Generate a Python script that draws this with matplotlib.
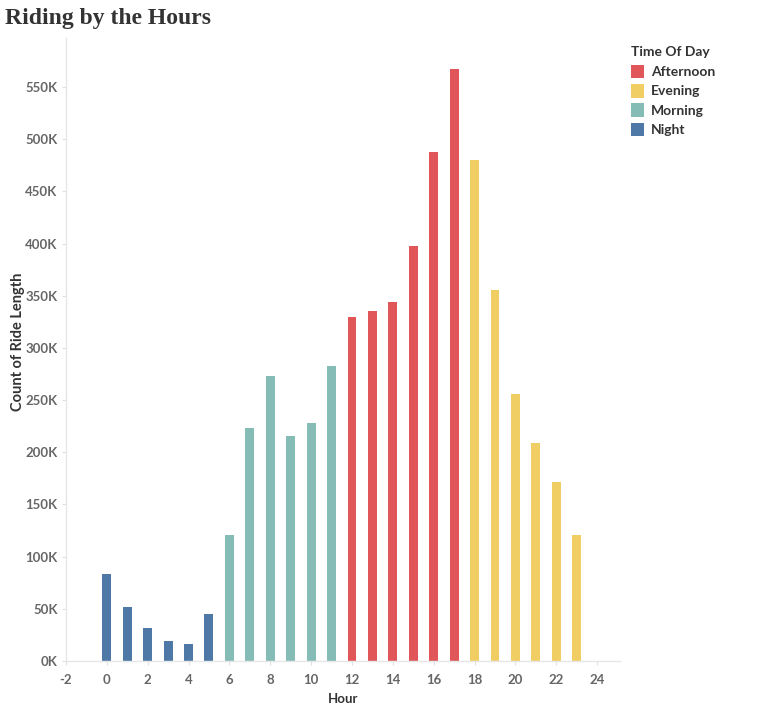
import matplotlib
matplotlib.use("Agg")
import matplotlib.pyplot as plt
from matplotlib.patches import Patch
from matplotlib.ticker import FuncFormatter

# ride counts per hour of day
hours = list(range(24))
counts = [83000, 52000, 32000, 19500, 16500, 45500,
          121000, 223000, 273000, 215500, 228000, 282500,
          330000, 335000, 344000, 398000, 487500, 567000,
          480000, 356000, 256000, 209000, 172000, 121000]
periods = (["Night"] * 6 + ["Morning"] * 6 +
           ["Afternoon"] * 6 + ["Evening"] * 6)

legend_order = ["Afternoon", "Evening", "Morning", "Night"]
colors = {"Afternoon": "#e15759", "Evening": "#f1ce63",
          "Morning": "#86bcb6", "Night": "#4e79a7"}

plt.rcParams['font.family'] = ['Lato', 'DejaVu Sans']
plt.rcParams['axes.unicode_minus'] = False

fig = plt.figure(figsize=(7.7, 7.12), dpi=100)
ax = fig.add_axes([0.0857, 0.0716, 0.719, 0.875])

bar_colors = [colors[p] for p in periods]
ax.bar(hours, counts, width=0.44, color=bar_colors, zorder=2)

ax.set_xlim(-2.0, 25.1)
ax.set_ylim(0, 597000)
ax.set_xticks(range(-2, 25, 2))
ax.set_yticks(range(0, 550001, 50000))
ax.yaxis.set_major_formatter(FuncFormatter(lambda v, p: "%dK" % (v / 1000)))

for s in ["top", "right"]:
    ax.spines[s].set_visible(False)
for s in ["left", "bottom"]:
    ax.spines[s].set_color("#e6e6e6")
    ax.spines[s].set_linewidth(1.0)

ax.tick_params(axis="both", colors="#e0e0e0", labelcolor="#666666",
               labelsize=9.5, length=3, width=0.8, pad=3)
ax.tick_params(axis="x", pad=6)
for lab in ax.get_xticklabels() + ax.get_yticklabels():
    lab.set_fontweight("bold")

ax.set_xlabel("Hour", fontsize=9.5, fontweight="bold", color="#333333")
ax.xaxis.set_label_coords(0.5, -0.052)
# y label placed by hand so it sits left of the tick labels
fig.text(18 / 770, 1 - 342 / 712, "Count of Ride Length", rotation=90,
         fontsize=10.5, fontweight="bold", color="#333333",
         ha="center", va="center")

fig.text(0.006, 0.974, "Riding by the Hours", fontsize=17, fontweight="bold",
         family="Liberation Serif", color="#333333", va="center")

handles = [Patch(facecolor=colors[k], edgecolor="none") for k in legend_order]
leg = fig.legend(handles, legend_order, title="Time Of Day",
                 loc="upper left", bbox_to_anchor=(0.820, 0.936),
                 frameon=False, fontsize=10, title_fontsize=10,
                 handlelength=0.9, handleheight=1.15, handletextpad=0.5,
                 labelspacing=0.4, borderpad=0.0, borderaxespad=0.0)
leg._legend_box.align = "left"
leg._legend_box.sep = 5
leg.get_title().set_fontweight("bold")
leg.get_title().set_color("#333333")
for t in leg.get_texts():
    t.set_fontweight("bold")
    t.set_color("#333333")

fig.savefig("out.png", dpi=100)
